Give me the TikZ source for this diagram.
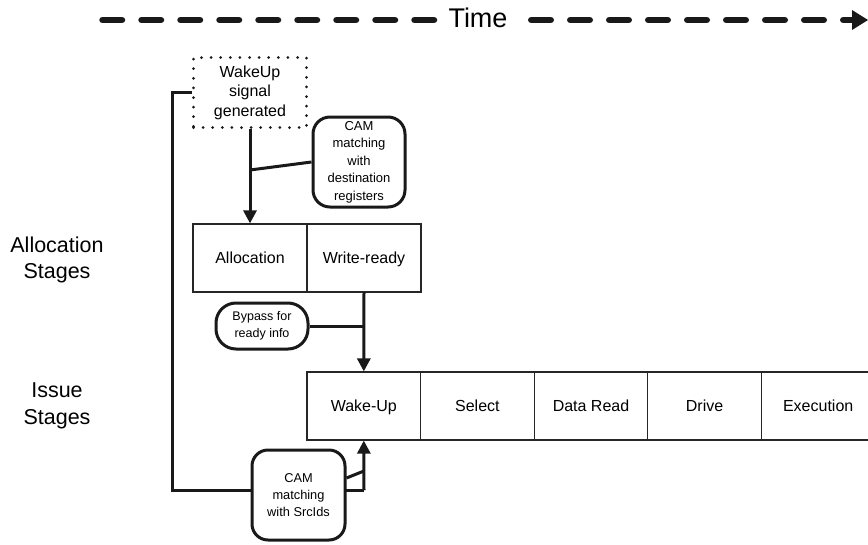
\documentclass[tikz,border=0pt]{standalone}
\usepackage{fontspec}
\setmainfont{Liberation Sans}
\usetikzlibrary{arrows.meta,calc}
\begin{document}
\begin{tikzpicture}[x=1pt,y=-1pt,
  stagebox/.style={draw=black!85, line width=1.2pt, minimum width=114pt, minimum height=68pt, inner sep=0pt, text height=12.5pt, text depth=1.5pt, font=\fontsize{16}{19}\selectfont},
  dotbox/.style={draw=black!90, line width=3pt, dash pattern=on 0pt off 9.6pt, line cap=round, minimum width=113pt, minimum height=70pt, inner sep=0pt, align=center, font=\fontsize{16}{19.5}\selectfont},
  rbox/.style={draw=black!90, line width=3pt, fill=white, inner sep=0pt, align=center, font=\fontsize{13}{17.5}\selectfont},
  conn/.style={draw=black!90, line width=3pt},
  arr/.style={conn, -{Triangle[length=13pt,width=13pt]}},
  lbl/.style={align=center, font=\fontsize{21.5}{26.5}\selectfont},
  timeline/.style={draw=black!90, line width=6.5pt, line cap=round, dash pattern=on 19.5pt off 19.5pt}
]
\useasboundingbox (0,0) rectangle (868,544);

% time axis
\node[font=\fontsize{27}{30}\selectfont, inner sep=0pt] (time) at (478,18) {Time};
\coordinate (tstart) at (102.5,20);
\coordinate (tleft) at (434,20);
\coordinate (tright) at (531.25,20);
\coordinate (tend) at (868,20);
\draw[timeline] (tstart) -- (tleft);
\draw[timeline] (tright) -- ($(tend)+(-14,0)$);
\fill[black!90] (tend) -- ++(-16,-10) -- ++(0,20) -- cycle;

% side labels
\node[lbl] (lalloc) at (57,260) {Allocation\\Stages};
\node[lbl] (lissue) at (57,406) {Issue\\Stages};

% wakeup signal
\node[dotbox] (wake) at (250,92.5) {WakeUp\\signal\\generated};

% allocation stages
\node[stagebox] (alloc) at (250,258) {Allocation};
\node[stagebox] (wready) at (364,258) {Write-ready};

% issue stages
\node[stagebox, minimum width=113.6pt] (wakeup) at (363.8,406) {Wake-Up};
\node[stagebox, minimum width=113.6pt] (select) at (477.4,406) {Select};
\node[stagebox, minimum width=113.6pt] (dread) at (591,406) {Data Read};
\node[stagebox, minimum width=113.6pt] (drive) at (704.6,406) {Drive};
\node[stagebox, minimum width=113.6pt] (exec) at (818.2,406) {Execution};

% rounded info boxes
\node[rbox, rounded corners=17pt, minimum width=92pt, minimum height=90pt] (cam1) at (359,162) {CAM\\matching\\with\\destination\\registers};
\node[rbox, rounded corners=20pt, minimum width=92pt, minimum height=46pt, font=\fontsize{12.5}{16.7}\selectfont] (bypass) at (262,326) {Bypass for\\ready info};

% connectors
\coordinate (j1) at (250,170);
\coordinate (j2) at (364,326);
\coordinate (fbl) at (172,490);
\coordinate (fbr) at (364,490);
\coordinate (j3) at (364,471);

\draw[arr] (wake.south) -- (alloc.north);
\draw[conn] (cam1.west) -- (j1);
\draw[arr] (wready.south) -- (wakeup.north);
\draw[conn] (bypass.east) -- (j2);

\draw[conn] (wake.west) -| (fbl) -- (fbr);
\draw[arr] (fbr) -- (wakeup.south);

\node[rbox, rounded corners=16pt, minimum width=93pt, minimum height=90pt, font=\fontsize{12.8}{16.7}\selectfont] (cam2) at (298.5,495) {CAM\\matching\\with SrcIds};
\draw[conn] ($(cam2.east)+(0,-17)$) -- (j3);
\end{tikzpicture}
\end{document}
